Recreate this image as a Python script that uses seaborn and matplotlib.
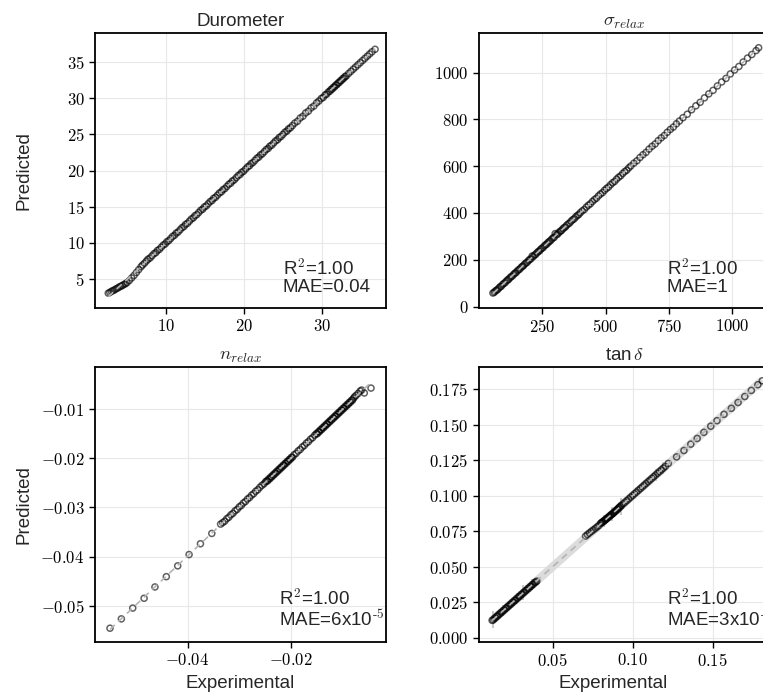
import matplotlib
matplotlib.use("Agg")
import matplotlib.pyplot as plt
import numpy as np
import pandas as pd
import seaborn as sns
from matplotlib.ticker import FixedLocator, FuncFormatter

# ---------------- Durometer ----------------
duro_exp = [
    2.6, 2.8, 3.0, 3.2, 3.4, 3.6, 3.8, 4.0, 4.2, 4.4,
    4.6, 4.8, 5.0, 5.3, 5.6, 5.9, 6.2, 6.5, 6.8, 7.0,
    7.25, 7.5, 7.7, 7.95, 8.2, 8.45, 8.7, 8.9, 9.15, 9.4,
    9.65, 9.9, 10.1, 10.35, 10.6, 10.85, 11.1, 11.3, 11.55, 11.8,
    12.05, 12.3, 12.5, 12.75, 13.0, 13.25, 13.5, 13.7, 13.95, 14.2,
    14.45, 14.7, 14.9, 15.15, 15.4, 15.65, 15.9, 16.1, 16.35, 16.6,
    16.85, 17.1, 17.3, 17.55, 17.8, 18.05, 18.3, 18.5, 18.75, 19.0,
    19.25, 19.5, 19.7, 19.95, 20.2, 20.45, 20.7, 20.9, 21.15, 21.4,
    21.65, 21.9, 22.1, 22.35, 22.6, 22.85, 23.1, 23.3, 23.55, 23.8,
    24.05, 24.3, 24.5, 24.75, 25.0, 25.25, 25.5, 25.7, 25.95, 26.2,
    26.5, 26.85, 27.2, 27.55, 27.9, 28.25, 28.6, 28.95, 29.3, 29.6,
    29.9, 30.15, 30.4, 30.6, 30.8, 31.0, 31.15, 31.3, 31.45, 31.6,
    31.75, 31.9, 32.05, 32.2, 32.35, 32.5, 32.65, 32.8, 32.95, 33.1,
    33.4, 33.7, 34.0, 34.3, 34.6, 34.9, 35.2, 35.5, 35.8, 36.1,
    36.4, 36.8,
]
duro_pred = [
    3.05, 3.15, 3.3, 3.4, 3.5, 3.65, 3.75, 3.9, 4.0, 4.1,
    4.25, 4.35, 4.5, 4.8, 5.15, 5.5, 5.9, 6.3, 6.7, 6.95,
    7.2, 7.5, 7.75, 7.9, 8.2, 8.5, 8.65, 8.95, 9.1, 9.4,
    9.7, 9.85, 10.15, 10.3, 10.6, 10.9, 11.05, 11.35, 11.5, 11.8,
    12.1, 12.25, 12.55, 12.7, 13.0, 13.3, 13.45, 13.75, 13.9, 14.2,
    14.5, 14.65, 14.95, 15.1, 15.4, 15.7, 15.85, 16.15, 16.3, 16.6,
    16.9, 17.05, 17.35, 17.5, 17.8, 18.1, 18.25, 18.55, 18.7, 19.0,
    19.3, 19.45, 19.75, 19.9, 20.2, 20.5, 20.65, 20.95, 21.1, 21.4,
    21.7, 21.85, 22.15, 22.3, 22.6, 22.9, 23.05, 23.35, 23.5, 23.8,
    24.1, 24.25, 24.55, 24.7, 25.0, 25.3, 25.45, 25.75, 25.9, 26.2,
    26.55, 26.8, 27.25, 27.5, 27.95, 28.2, 28.65, 28.9, 29.35, 29.6,
    29.95, 30.1, 30.45, 30.55, 30.85, 30.95, 31.2, 31.25, 31.5, 31.55,
    31.8, 31.85, 32.1, 32.15, 32.4, 32.45, 32.7, 32.75, 33.0, 33.05,
    33.4, 33.7, 34.0, 34.3, 34.6, 34.9, 35.2, 35.5, 35.8, 36.1,
    36.4, 36.75,
]

# ---------------- sigma_relax ----------------
sig_exp = [
    55, 60, 64, 69, 74, 79, 84, 88, 93, 98,
    103, 108, 113, 117, 122, 127, 132, 137, 142, 146,
    151, 156, 161, 166, 171, 175, 180, 185, 190, 195,
    200, 205, 210, 214, 219, 224, 229, 234, 239, 243,
    248, 253, 258, 263, 268, 272, 277, 282, 287, 292,
    297, 301, 306, 311, 316, 321, 326, 331, 336, 341,
    346, 352, 358, 364, 370, 376, 382, 388, 394, 400,
    408, 416, 424, 432, 440, 448, 456, 464, 472, 480,
    488, 496, 504, 512, 520, 528, 536, 544, 552, 560,
    568, 576, 584, 592, 600, 612, 624, 636, 648, 660,
    672, 684, 696, 708, 720, 732, 744, 756, 768, 780,
    792, 806, 823, 840, 857, 874, 891, 908, 925, 942,
    959, 976, 993, 1010, 1027, 1044, 1061, 1078, 1095, 1105,
]
sig_pred = [
    58, 61, 66, 70, 73, 80, 85, 87, 94, 99,
    102, 109, 114, 116, 123, 128, 131, 138, 143, 145,
    152, 157, 160, 167, 172, 174, 181, 186, 189, 196,
    201, 204, 216, 213, 220, 223, 230, 235, 238, 244,
    249, 252, 259, 264, 267, 273, 278, 281, 288, 293,
    296, 312, 307, 310, 317, 322, 325, 332, 337, 340,
    347, 353, 357, 365, 371, 375, 383, 389, 393, 401,
    409, 415, 425, 433, 439, 449, 457, 463, 473, 481,
    487, 497, 505, 511, 521, 529, 535, 545, 553, 559,
    569, 577, 583, 593, 601, 613, 623, 637, 649, 659,
    673, 685, 695, 709, 721, 731, 745, 757, 767, 781,
    793, 807, 822, 841, 858, 873, 892, 909, 924, 943,
    960, 975, 994, 1011, 1026, 1045, 1062, 1077, 1094, 1106,
]

# ---------------- n_relax ----------------
nrel_exp = [
    -0.0550, -0.0528, -0.0506, -0.0484, -0.0463, -0.0441, -0.0419, -0.0397, -0.0375, -0.0353,
    -0.0336, -0.0332, -0.0328, -0.0324, -0.0320, -0.0316, -0.0312, -0.0308, -0.0304, -0.0300,
    -0.0296, -0.0292, -0.0288, -0.0284, -0.0280, -0.0276, -0.0272, -0.0268, -0.0264, -0.0260,
    -0.0256, -0.0252, -0.0249,
    -0.0247, -0.0245, -0.0243, -0.0241, -0.0239, -0.0237, -0.0235, -0.0233, -0.0231, -0.0229,
    -0.0227, -0.0225, -0.0223, -0.0221, -0.0219, -0.0217, -0.0215, -0.0213, -0.0211, -0.0209,
    -0.0207, -0.0205, -0.0203, -0.0201, -0.0199, -0.0197,
    -0.0194, -0.0190, -0.0186, -0.0182, -0.0178, -0.0174, -0.0170, -0.0166, -0.0162, -0.0158,
    -0.0154,
    -0.0151, -0.0149, -0.0147, -0.0145, -0.0143, -0.0141, -0.0139, -0.0137, -0.0135, -0.0133,
    -0.0131, -0.0129, -0.0127, -0.0125, -0.0123, -0.0121, -0.0119, -0.0117, -0.0115, -0.0113,
    -0.0111, -0.0109, -0.0107, -0.0105, -0.0103, -0.0101, -0.0099, -0.0097, -0.0095, -0.0093,
    -0.0091, -0.0089, -0.0087, -0.0085, -0.0083, -0.0081, -0.0079,
    -0.0077, -0.0074, -0.0070, -0.0066, -0.0063, -0.0058, -0.0045,
]
nrel_pred = [
    -0.0546, -0.0527, -0.0505, -0.0485, -0.0462, -0.0441, -0.0419, -0.0396, -0.0374, -0.0353,
    -0.0334, -0.0331, -0.0328, -0.0323, -0.0320, -0.0315, -0.0312, -0.0307, -0.0304, -0.0299,
    -0.0296, -0.0291, -0.0288, -0.0283, -0.0280, -0.0275, -0.0272, -0.0267, -0.0264, -0.0259,
    -0.0255, -0.0252, -0.0248,
    -0.0246, -0.0246, -0.0242, -0.0242, -0.0238, -0.0238, -0.0234, -0.0234, -0.0230, -0.0230,
    -0.0226, -0.0226, -0.0222, -0.0222, -0.0218, -0.0218, -0.0214, -0.0214, -0.0210, -0.0210,
    -0.0206, -0.0206, -0.0202, -0.0202, -0.0198, -0.0198,
    -0.0193, -0.0190, -0.0185, -0.0182, -0.0177, -0.0174, -0.0169, -0.0166, -0.0161, -0.0158,
    -0.0153,
    -0.0150, -0.0150, -0.0146, -0.0146, -0.0142, -0.0142, -0.0138, -0.0138, -0.0134, -0.0134,
    -0.0130, -0.0130, -0.0126, -0.0126, -0.0122, -0.0122, -0.0118, -0.0118, -0.0114, -0.0114,
    -0.0110, -0.0110, -0.0106, -0.0106, -0.0102, -0.0102, -0.0098, -0.0098, -0.0094, -0.0094,
    -0.0090, -0.0090, -0.0086, -0.0086, -0.0082, -0.0082, -0.0078,
    -0.0075, -0.0072, -0.0068, -0.0063, -0.0061, -0.0067, -0.0057,
]

# ---------------- tan delta ----------------
tan_exp = [
    0.0120, 0.0127, 0.0134, 0.0141, 0.0148, 0.0155, 0.0162, 0.0169, 0.0176, 0.0183,
    0.0190, 0.0197, 0.0204, 0.0211, 0.0218, 0.0225, 0.0232, 0.0239, 0.0246, 0.0253,
    0.0260, 0.0267, 0.0274, 0.0281, 0.0288, 0.0295, 0.0302, 0.0309, 0.0316, 0.0323,
    0.0330, 0.0337, 0.0344, 0.0351, 0.0358, 0.0365, 0.0372, 0.0379, 0.0386, 0.0393,
    0.0400,
    0.0705, 0.0717, 0.0729, 0.0741, 0.0753, 0.0765, 0.0777, 0.0789,
    0.0800, 0.0805, 0.0810, 0.0815, 0.0820, 0.0825, 0.0830, 0.0835, 0.0840, 0.0845,
    0.0850, 0.0855, 0.0860, 0.0865, 0.0870, 0.0875, 0.0880, 0.0885, 0.0890, 0.0895,
    0.0900, 0.0905, 0.0910, 0.0915, 0.0920, 0.0925, 0.0930,
    0.0940, 0.0952, 0.0964, 0.0976, 0.0988, 0.1000, 0.1012, 0.1024, 0.1036, 0.1048,
    0.1060, 0.1072, 0.1084, 0.1096, 0.1108, 0.1120, 0.1132, 0.1144, 0.1156, 0.1168,
    0.1180, 0.1192, 0.1204,
    0.1223, 0.1275, 0.1321, 0.1364, 0.1404, 0.1446, 0.1489, 0.1528, 0.1572, 0.1618,
    0.1660, 0.1702, 0.1743, 0.1784, 0.1812,
]
tan_pred = [
    0.0122, 0.0125, 0.0136, 0.0139, 0.0150, 0.0153, 0.0164, 0.0167, 0.0178, 0.0181,
    0.0192, 0.0195, 0.0206, 0.0209, 0.0220, 0.0223, 0.0234, 0.0237, 0.0248, 0.0251,
    0.0262, 0.0265, 0.0276, 0.0279, 0.0290, 0.0293, 0.0304, 0.0307, 0.0318, 0.0321,
    0.0332, 0.0335, 0.0346, 0.0349, 0.0360, 0.0363, 0.0374, 0.0377, 0.0388, 0.0391,
    0.0398,
    0.0715, 0.0726, 0.0737, 0.0748, 0.0758, 0.0768, 0.0779, 0.0790,
    0.0806, 0.0808, 0.0813, 0.0817, 0.0822, 0.0826, 0.0831, 0.0836, 0.0840, 0.0845,
    0.0849, 0.0855, 0.0859, 0.0864, 0.0869, 0.0873, 0.0878, 0.0884, 0.0888, 0.0894,
    0.0898, 0.0904, 0.0909, 0.0915, 0.0920, 0.0926, 0.0931,
    0.0942, 0.0953, 0.0965, 0.0977, 0.0989, 0.1001, 0.1013, 0.1025, 0.1037, 0.1049,
    0.1061, 0.1073, 0.1085, 0.1097, 0.1109, 0.1121, 0.1133, 0.1145, 0.1157, 0.1169,
    0.1181, 0.1193, 0.1205,
    0.1226, 0.1272, 0.1317, 0.1362, 0.1402, 0.1445, 0.1488, 0.1527, 0.1572, 0.1614,
    0.1655, 0.1697, 0.1740, 0.1780, 0.1808,
]
# spread of repeated predictions at selected samples
tan_err_x = [0.0127, 0.0190, 0.0274, 0.0316, 0.0372, 0.0820, 0.0870, 0.0925, 0.1144, 0.1192]
tan_err_y = [0.0125, 0.0192, 0.0276, 0.0318, 0.0374, 0.0822, 0.0869, 0.0926, 0.1145, 0.1193]
tan_err_half = [0.006, 0.004, 0.004, 0.005, 0.004, 0.004, 0.005, 0.006, 0.004, 0.004]

# ---------------- panel metadata ----------------
titles = ["Durometer", r"$\sigma_{relax}$", r"$n_{relax}$", r"tan$\,\delta$"]
r2_labels = ["1.00", "1.00", "1.00", "1.00"]
mae_labels = ["0.04", "1", r"6x10$^{\text{-5}}$", r"3x10$^{\text{-4}}$"]
label_x = [0.645, 0.645, 0.632, 0.645]

duro_xticks, duro_yticks = [10, 20, 30], [5, 10, 15, 20, 25, 30, 35]
sig_xticks, sig_yticks = [250, 500, 750, 1000], [0, 200, 400, 600, 800, 1000]
nrel_xticks, nrel_yticks = [-0.04, -0.02], [-0.05, -0.04, -0.03, -0.02, -0.01]
tan_xticks = [0.05, 0.10, 0.15]
tan_yticks = [0.000, 0.025, 0.050, 0.075, 0.100, 0.125, 0.150, 0.175]

sns.set_theme(style="whitegrid", rc={
    "axes.edgecolor": "black",
    "axes.linewidth": 1.3,
    "grid.color": "#e8e8e8",
    "grid.linewidth": 0.8,
    "xtick.bottom": True,
    "ytick.left": True,
    "xtick.direction": "out",
    "ytick.direction": "out",
    "xtick.major.size": 4,
    "ytick.major.size": 4,
    "xtick.major.width": 1.0,
    "ytick.major.width": 1.0,
    "xtick.color": "black",
    "ytick.color": "black",
    "xtick.major.pad": 3.5,
    "ytick.major.pad": 3.5,
})
plt.rcParams["font.family"] = ["Liberation Sans", "DejaVu Sans"]
plt.rcParams["mathtext.fontset"] = "cm"

fig = plt.figure(figsize=(7.63, 6.92), dpi=100)
W, H = 0.3814, 0.3974
ax_duro = fig.add_axes([0.1245, 0.5549, W, H])
ax_sig = fig.add_axes([0.6278, 0.5549, W, H])
ax_nrel = fig.add_axes([0.1245, 0.0723, W, H])
ax_tan = fig.add_axes([0.6278, 0.0723, W, H])

point_style = dict(s=19, facecolor="none", edgecolor="black", linewidth=1.1, alpha=0.62)
fit_style = dict(color="#b4b4b4", lw=1.2, ls=(0, (4, 3)))


def draw_panel(ax, exp, pred, title, r2, mae, lx, xticks, yticks, xdec, ydec, xlim, ylim,
               band=False):
    df = pd.DataFrame({"Experimental": exp, "Predicted": pred})
    if band:
        sns.regplot(data=df, x="Experimental", y="Predicted", ax=ax, scatter=False, ci=None,
                    line_kws=dict(color="#dcdcdc", lw=6, solid_capstyle="butt"))
    sns.scatterplot(data=df, x="Experimental", y="Predicted", ax=ax, zorder=3, **point_style)
    sns.regplot(data=df, x="Experimental", y="Predicted", ax=ax, scatter=False, ci=None,
                line_kws=dict(zorder=4, **fit_style))
    ax.set_xlim(*xlim)
    ax.set_ylim(*ylim)
    ax.xaxis.set_major_locator(FixedLocator(xticks))
    ax.yaxis.set_major_locator(FixedLocator(yticks))
    ax.xaxis.set_major_formatter(FuncFormatter(lambda v, p: f"${v:.{xdec}f}$"))
    ax.yaxis.set_major_formatter(FuncFormatter(lambda v, p: f"${v:.{ydec}f}$"))
    ax.tick_params(labelsize=12)
    ax.set_title(title, fontsize=13.5, pad=5)
    ax.set_xlabel("")
    ax.set_ylabel("")
    ax.text(lx, 0.045, f"R$^{{\\mathsf{{2}}}}$={r2}\nMAE={mae}", transform=ax.transAxes,
            fontsize=13.5, ha="left", va="bottom", linespacing=1.0, zorder=5)
    for s in ax.spines.values():
        s.set_zorder(6)


draw_panel(ax_duro, duro_exp, duro_pred, titles[0], r2_labels[0], mae_labels[0], label_x[0],
           duro_xticks, duro_yticks, 0, 0, (0.9, 38.2), (1.0, 39.0))
draw_panel(ax_sig, sig_exp, sig_pred, titles[1], r2_labels[1], mae_labels[1], label_x[1],
           sig_xticks, sig_yticks, 0, 0, (0, 1150), (-6, 1169))
draw_panel(ax_nrel, nrel_exp, nrel_pred, titles[2], r2_labels[2], mae_labels[2], label_x[2],
           nrel_xticks, nrel_yticks, 2, 2, (-0.0579, -0.0016), (-0.0574, -0.0014))
draw_panel(ax_tan, tan_exp, tan_pred, titles[3], r2_labels[3], mae_labels[3], label_x[3],
           tan_xticks, tan_yticks, 2, 3, (0.0038, 0.186), (-0.003, 0.1905), band=True)
ax_tan.errorbar(tan_err_x, tan_err_y, yerr=tan_err_half, fmt="none",
                ecolor="#bdbdbd", elinewidth=1.2, zorder=2)

for ax in (ax_duro, ax_nrel):
    ax.set_ylabel("Predicted", fontsize=13.5)
    ax.yaxis.set_label_coords(-0.215, 0.5)
for ax, xc in ((ax_nrel, 0.5), (ax_tan, 0.46)):
    ax.set_xlabel("Experimental", fontsize=13.5)
    ax.xaxis.set_label_coords(xc, -0.12)

fig.savefig("out.png", dpi=100)
